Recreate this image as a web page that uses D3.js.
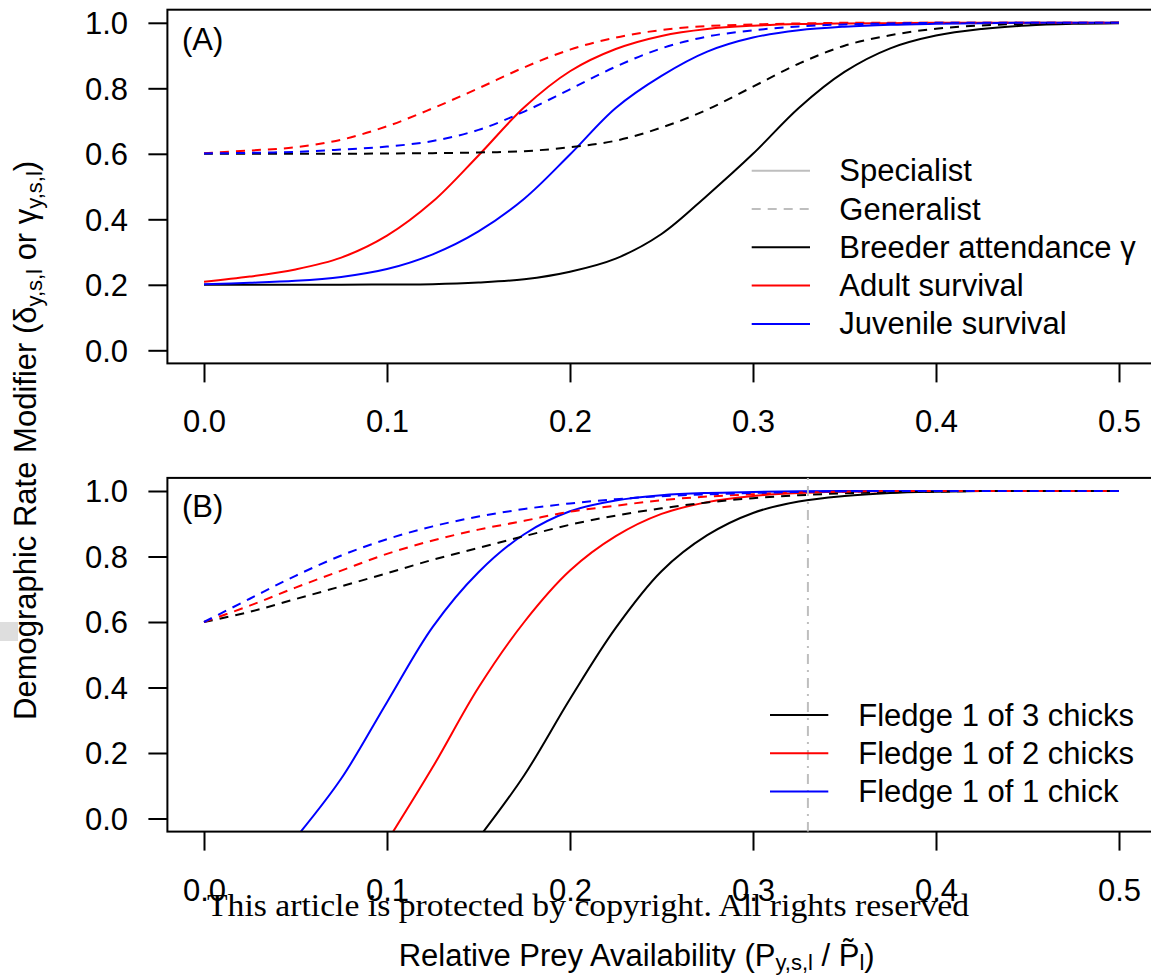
<!DOCTYPE html>
<html>
<head>
<meta charset="utf-8">
<script src="https://cdn.jsdelivr.net/npm/d3@7"></script>
<style>
  body { margin: 0; background: #fff; }
  svg text { font-family: "Liberation Sans", Arial, sans-serif; fill: #000; }
</style>
</head>
<body>
<svg id="chart" width="1151" height="975"></svg>
<script>
// relative prey availability grid
const xGrid = [0, 0.025, 0.05, 0.075, 0.1, 0.125, 0.15, 0.175, 0.2, 0.225, 0.25,
  0.275, 0.3, 0.325, 0.35, 0.375, 0.4, 0.425, 0.45, 0.475, 0.5];
const xTicks = [0, 0.1, 0.2, 0.3, 0.4, 0.5];
const yTicks = [0, 0.2, 0.4, 0.6, 0.8, 1.0];

// panel A, specialist (solid)
const breederSpec = [0.2, 0.2, 0.2, 0.2, 0.201, 0.202, 0.207, 0.217, 0.24, 0.28, 0.355,
  0.473, 0.6, 0.74, 0.85, 0.922, 0.961, 0.981, 0.992, 0.997, 0.999];
const adultSpec = [0.209, 0.225, 0.247, 0.283, 0.35, 0.454, 0.595, 0.742, 0.852, 0.92, 0.96,
  0.981, 0.991, 0.996, 0.998, 0.999, 1, 1, 1, 1, 1];
const juvSpec = [0.202, 0.206, 0.212, 0.224, 0.248, 0.293, 0.363, 0.463, 0.598, 0.74, 0.838,
  0.912, 0.955, 0.977, 0.988, 0.994, 0.997, 0.999, 1, 1, 1];
// panel A, generalist (dashed)
const breederGen = [0.6, 0.6, 0.6, 0.6, 0.601, 0.602, 0.604, 0.608, 0.62, 0.64, 0.68,
  0.735, 0.805, 0.875, 0.93, 0.962, 0.982, 0.992, 0.997, 0.999, 1];
const adultGen = [0.602, 0.61, 0.62, 0.643, 0.684, 0.739, 0.8, 0.864, 0.918, 0.955, 0.978,
  0.99, 0.995, 0.998, 1, 1, 1, 1, 1, 1, 1];
const juvGen = [0.601, 0.603, 0.606, 0.613, 0.622, 0.639, 0.673, 0.729, 0.797, 0.866, 0.922,
  0.958, 0.977, 0.989, 0.995, 0.998, 1, 1, 1, 1, 1];

// panel B, specialist (solid) – null where the curve has not started
const fledge3Spec = [null, null, null, null, null, null, -0.06, 0.132, 0.365, 0.582, 0.755,
  0.865, 0.933, 0.968, 0.985, 0.994, 0.998, 1, 1, 1, 1];
const fledge2Spec = [null, null, null, null, -0.07, 0.157, 0.4, 0.6, 0.757, 0.862, 0.93,
  0.966, 0.985, 0.994, 0.998, 1, 1, 1, 1, 1, 1];
const fledge1Spec = [null, null, -0.06, 0.122, 0.355, 0.585, 0.752, 0.868, 0.938, 0.971, 0.987,
  0.994, 0.997, 0.999, 1, 1, 1, 1, 1, 1, 1];
// panel B, generalist (dashed)
const fledge3Gen = [0.6, 0.631, 0.67, 0.709, 0.749, 0.79, 0.826, 0.862, 0.897, 0.925, 0.947,
  0.965, 0.978, 0.987, 0.993, 0.996, 0.998, 1, 1, 1, 1];
const fledge2Gen = [0.6, 0.65, 0.705, 0.757, 0.808, 0.849, 0.882, 0.909, 0.937, 0.955, 0.972,
  0.983, 0.99, 0.995, 0.998, 1, 1, 1, 1, 1, 1];
const fledge1Gen = [0.6, 0.671, 0.741, 0.803, 0.853, 0.892, 0.922, 0.945, 0.962, 0.975, 0.984,
  0.99, 0.994, 0.997, 0.999, 1, 1, 1, 1, 1, 1];

const thresholdX = 0.33;

const legendA = [
  { label: 'Specialist', color: '#bebebe', dash: null },
  { label: 'Generalist', color: '#bebebe', dash: '9,7' },
  { label: 'Breeder attendance \u03b3', color: '#000', dash: null },
  { label: 'Adult survival', color: '#ff0000', dash: null },
  { label: 'Juvenile survival', color: '#0000ff', dash: null },
];
const legendB = [
  { label: 'Fledge 1 of 3 chicks', color: '#000' },
  { label: 'Fledge 1 of 2 chicks', color: '#ff0000' },
  { label: 'Fledge 1 of 1 chick', color: '#0000ff' },
];

const panelA = [
  { values: breederSpec, color: '#000', dash: null },
  { values: adultSpec, color: '#ff0000', dash: null },
  { values: juvSpec, color: '#0000ff', dash: null },
  { values: breederGen, color: '#000', dash: '9,7' },
  { values: adultGen, color: '#ff0000', dash: '9,7' },
  { values: juvGen, color: '#0000ff', dash: '9,7' },
];
const panelB = [
  { values: fledge3Spec, color: '#000', dash: null },
  { values: fledge2Spec, color: '#ff0000', dash: null },
  { values: fledge1Spec, color: '#0000ff', dash: null },
  { values: fledge3Gen, color: '#000', dash: '9,7' },
  { values: fledge2Gen, color: '#ff0000', dash: '9,7' },
  { values: fledge1Gen, color: '#0000ff', dash: '9,7' },
];

const svg = d3.select('#chart');
svg.append('rect').attr('width', 1151).attr('height', 975).attr('fill', '#fff');

const x = d3.scaleLinear().domain([0, 0.5]).range([204, 1119]);
const fontSize = 31;

function drawPanel(id, series, y0, y1, label, labelY) {
  const y = d3.scaleLinear().domain([0, 1]).range([y0, y1]);
  const left = x(-0.02), right = x(0.52), top = y(1.04), bottom = y(-0.04);

  svg.append('clipPath').attr('id', `clip-${id}`)
    .append('rect')
    .attr('x', left).attr('y', top)
    .attr('width', right - left).attr('height', bottom - top);

  const plot = svg.append('g').attr('clip-path', `url(#clip-${id})`);
  const line = d3.line()
    .defined((d) => d[1] !== null)
    .x((d) => x(d[0]))
    .y((d) => y(d[1]))
    .curve(d3.curveCatmullRom.alpha(0.5));

  plot.selectAll('.curve')
    .data(series)
    .join('path')
    .attr('class', 'curve')
    .attr('fill', 'none')
    .attr('stroke', (d) => d.color)
    .attr('stroke-width', 2)
    .attr('stroke-dasharray', (d) => d.dash)
    .attr('d', (d) => line(xGrid.map((v, i) => [v, d.values[i]])));

  // box
  svg.append('rect')
    .attr('x', left).attr('y', top)
    .attr('width', right - left).attr('height', bottom - top)
    .attr('fill', 'none').attr('stroke', '#000').attr('stroke-width', 2);

  // x axis
  const xAxis = svg.append('g').attr('transform', `translate(0,${bottom})`)
    .call(d3.axisBottom(x).tickValues(xTicks).tickSize(19).tickPadding(0)
      .tickFormat(d3.format('.1f')));
  xAxis.select('.domain').remove();
  xAxis.selectAll('.tick line').attr('stroke', '#000').attr('stroke-width', 2);
  xAxis.selectAll('.tick text')
    .attr('y', 69).attr('dy', null)
    .style('font-size', `${fontSize}px`)
    .style('font-family', '"Liberation Sans", Arial, sans-serif');

  // y axis
  const yAxis = svg.append('g').attr('transform', `translate(${left},0)`)
    .call(d3.axisLeft(y).tickValues(yTicks).tickSize(19).tickPadding(20)
      .tickFormat(d3.format('.1f')));
  yAxis.select('.domain').remove();
  yAxis.selectAll('.tick line').attr('stroke', '#000').attr('stroke-width', 2);
  yAxis.selectAll('.tick text')
    .attr('x', 128 - left).attr('dy', '0.35em')
    .style('font-size', `${fontSize}px`)
    .style('font-family', '"Liberation Sans", Arial, sans-serif');

  svg.append('text')
    .attr('x', 182).attr('y', labelY)
    .style('font-size', `${fontSize}px`)
    .text(label);

  return { y, top, bottom };
}

drawPanel('a', panelA, 350.3, 22.8, '(A)', 50);
const b = drawPanel('b', panelB, 818.5, 491, '(B)', 517);

// threshold line in panel B
svg.append('line')
  .attr('x1', x(thresholdX)).attr('x2', x(thresholdX))
  .attr('y1', b.top).attr('y2', b.bottom)
  .attr('stroke', '#bebebe').attr('stroke-width', 2)
  .attr('stroke-dasharray', '2,6,10,6');

// legend A
const legA = svg.append('g');
legA.selectAll('line')
  .data(legendA)
  .join('line')
  .attr('x1', 751.7).attr('x2', 810)
  .attr('y1', (d, i) => 170.7 + i * 38.3).attr('y2', (d, i) => 170.7 + i * 38.3)
  .attr('stroke', (d) => d.color).attr('stroke-width', 2)
  .attr('stroke-dasharray', (d) => d.dash);
legA.selectAll('text')
  .data(legendA)
  .join('text')
  .attr('x', 839.3).attr('y', (d, i) => 170.7 + i * 38.3 + 10.5)
  .style('font-size', `${fontSize}px`)
  .text((d) => d.label);

// legend B
const legB = svg.append('g');
legB.selectAll('line')
  .data(legendB)
  .join('line')
  .attr('x1', 770).attr('x2', 828.3)
  .attr('y1', (d, i) => 715 + i * 38.3).attr('y2', (d, i) => 715 + i * 38.3)
  .attr('stroke', (d) => d.color).attr('stroke-width', 2);
legB.selectAll('text')
  .data(legendB)
  .join('text')
  .attr('x', 858.3).attr('y', (d, i) => 715 + i * 38.3 + 10.5)
  .style('font-size', `${fontSize}px`)
  .text((d) => d.label);

// y axis title
const yTitle = svg.append('text')
  .attr('transform', 'translate(35.5,720) rotate(-90)')
  .style('font-size', `${fontSize}px`);
yTitle.append('tspan').text('Demographic Rate Modifier (\u03b4');
yTitle.append('tspan').attr('dy', 6).style('font-size', '22px').text('y,s,l');
yTitle.append('tspan').attr('dy', -6).text(' or \u03b3');
yTitle.append('tspan').attr('dy', 6).style('font-size', '22px').text('y,s,l');
yTitle.append('tspan').attr('dy', -6).text(')');

// x axis title
const xTitle = svg.append('text')
  .attr('x', 398.7).attr('y', 966)
  .style('font-size', `${fontSize}px`);
xTitle.append('tspan').text('Relative Prey Availability (P');
xTitle.append('tspan').attr('dy', 4).style('font-size', '22px').text('y,s,l');
xTitle.append('tspan').attr('dy', -4).text(' / P\u0303');
xTitle.append('tspan').attr('dy', 4).style('font-size', '22px').text('l');
xTitle.append('tspan').attr('dy', -4).text(')');

// small grey patch at left edge
svg.append('rect')
  .attr('x', 0).attr('y', 622).attr('width', 18).attr('height', 19)
  .attr('fill', '#dedede');

// watermark
svg.append('text')
  .attr('x', 207).attr('y', 916)
  .attr('textLength', 762)
  .attr('lengthAdjust', 'spacingAndGlyphs')
  .style('font-family', '"Liberation Serif", "DejaVu Serif", serif')
  .style('font-size', '31px')
  .text('This article is protected by copyright. All rights reserved');
</script>
</body>
</html>
